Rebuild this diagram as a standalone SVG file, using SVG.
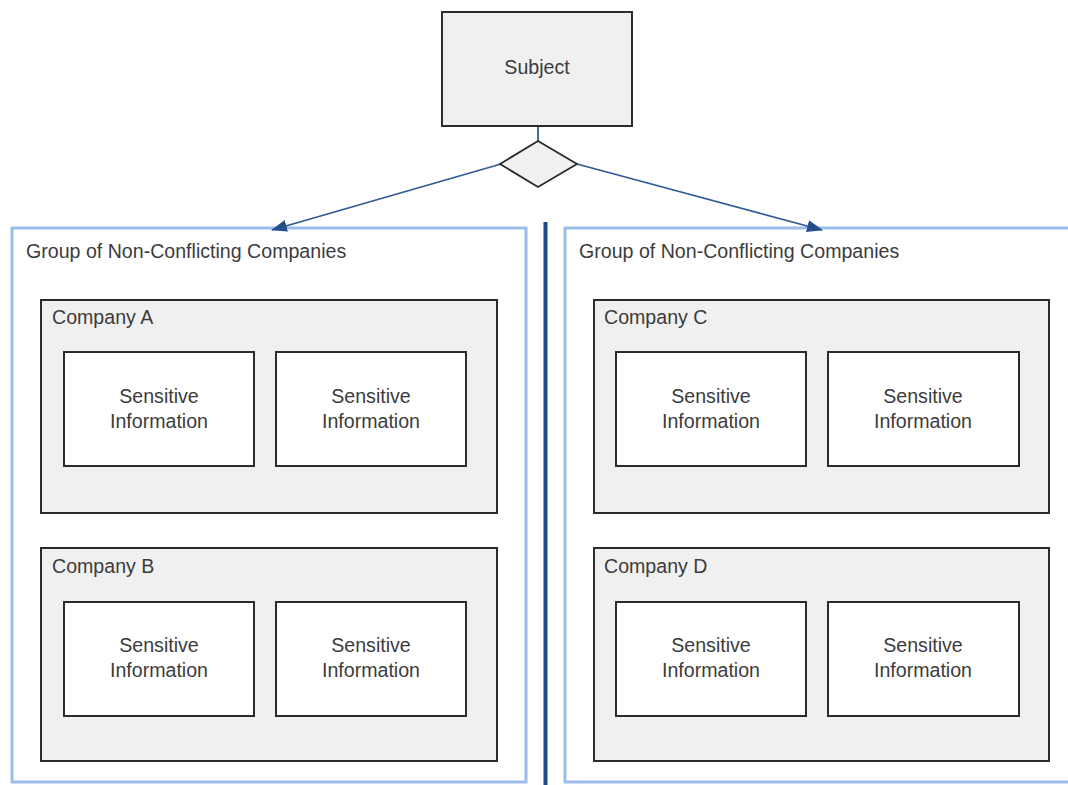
<svg xmlns="http://www.w3.org/2000/svg" width="1068" height="785" viewBox="0 0 1068 785">
  <defs>
    <style>
      text { font-family: "Liberation Sans", Arial, sans-serif; fill: #3c3c3c; font-size: 19.6px; }
      .mid { text-anchor: middle; }
      .group { fill: #ffffff; stroke: #9cbde9; stroke-width: 3; }
      .company { fill: #f0f0f0; stroke: #2b2b2b; stroke-width: 2; }
      .info { fill: #ffffff; stroke: #2b2b2b; stroke-width: 2; }
      .subject { fill: #f0f0f0; stroke: #2b2b2b; stroke-width: 2; }
      .link { fill: none; stroke: #2f5b96; stroke-width: 1.8; }
    </style>
    <marker id="arrow" viewBox="0 0 16 12" refX="15" refY="6" markerWidth="16" markerHeight="12" markerUnits="userSpaceOnUse" orient="auto">
      <path d="M0,0 L16,6 L0,12 Z" fill="#254f8a"/>
    </marker>
  </defs>

  <rect width="1068" height="785" fill="#ffffff"/>

  <!-- left group -->
  <g id="group-left">
    <rect class="group" x="12" y="228" width="514" height="554"/>
    <text x="26" y="258">Group of Non-Conflicting Companies</text>
  </g>
  <!-- right group, running off the right edge -->
  <g id="group-right">
    <rect class="group" x="565" y="228" width="520" height="554"/>
    <text x="579" y="258">Group of Non-Conflicting Companies</text>
  </g>

  <!-- wall between the groups -->
  <line id="separator" x1="545.5" y1="222" x2="545.5" y2="785" stroke="#1f4a82" stroke-width="4"/>

  <g id="company-a">
    <rect class="company" x="41" y="300" width="456" height="213"/>
    <text x="52" y="324">Company A</text>
  </g>
  <g id="company-a-info-1">
    <rect class="info" x="64" y="352" width="190" height="114"/>
    <text class="mid" x="159" y="403">Sensitive</text>
    <text class="mid" x="159" y="428">Information</text>
  </g>
  <g id="company-a-info-2">
    <rect class="info" x="276" y="352" width="190" height="114"/>
    <text class="mid" x="371" y="403">Sensitive</text>
    <text class="mid" x="371" y="428">Information</text>
  </g>

  <g id="company-b">
    <rect class="company" x="41" y="548" width="456" height="213"/>
    <text x="52" y="573">Company B</text>
  </g>
  <g id="company-b-info-1">
    <rect class="info" x="64" y="602" width="190" height="114"/>
    <text class="mid" x="159" y="652">Sensitive</text>
    <text class="mid" x="159" y="677">Information</text>
  </g>
  <g id="company-b-info-2">
    <rect class="info" x="276" y="602" width="190" height="114"/>
    <text class="mid" x="371" y="652">Sensitive</text>
    <text class="mid" x="371" y="677">Information</text>
  </g>

  <g id="company-c">
    <rect class="company" x="594" y="300" width="455" height="213"/>
    <text x="604" y="324">Company C</text>
  </g>
  <g id="company-c-info-1">
    <rect class="info" x="616" y="352" width="190" height="114"/>
    <text class="mid" x="711" y="403">Sensitive</text>
    <text class="mid" x="711" y="428">Information</text>
  </g>
  <g id="company-c-info-2">
    <rect class="info" x="828" y="352" width="191" height="114"/>
    <text class="mid" x="923" y="403">Sensitive</text>
    <text class="mid" x="923" y="428">Information</text>
  </g>

  <g id="company-d">
    <rect class="company" x="594" y="548" width="455" height="213"/>
    <text x="604" y="573">Company D</text>
  </g>
  <g id="company-d-info-1">
    <rect class="info" x="616" y="602" width="190" height="114"/>
    <text class="mid" x="711" y="652">Sensitive</text>
    <text class="mid" x="711" y="677">Information</text>
  </g>
  <g id="company-d-info-2">
    <rect class="info" x="828" y="602" width="191" height="114"/>
    <text class="mid" x="923" y="652">Sensitive</text>
    <text class="mid" x="923" y="677">Information</text>
  </g>

  <!-- connectors -->
  <g id="connectors">
    <line class="link" x1="538" y1="126" x2="538" y2="141"/>
    <line class="link" x1="501" y1="164" x2="272" y2="230" marker-end="url(#arrow)"/>
    <line class="link" x1="577" y1="164" x2="822" y2="230" marker-end="url(#arrow)"/>
  </g>

  <g id="subject">
    <rect class="subject" x="442" y="12" width="190" height="114"/>
    <text class="mid" x="537" y="74">Subject</text>
  </g>

  <g id="decision">
    <polygon points="538,141 577,164 538,187 500,164" fill="#f0f0f0" stroke="#2b2b2b" stroke-width="1.8"/>
  </g>
</svg>
